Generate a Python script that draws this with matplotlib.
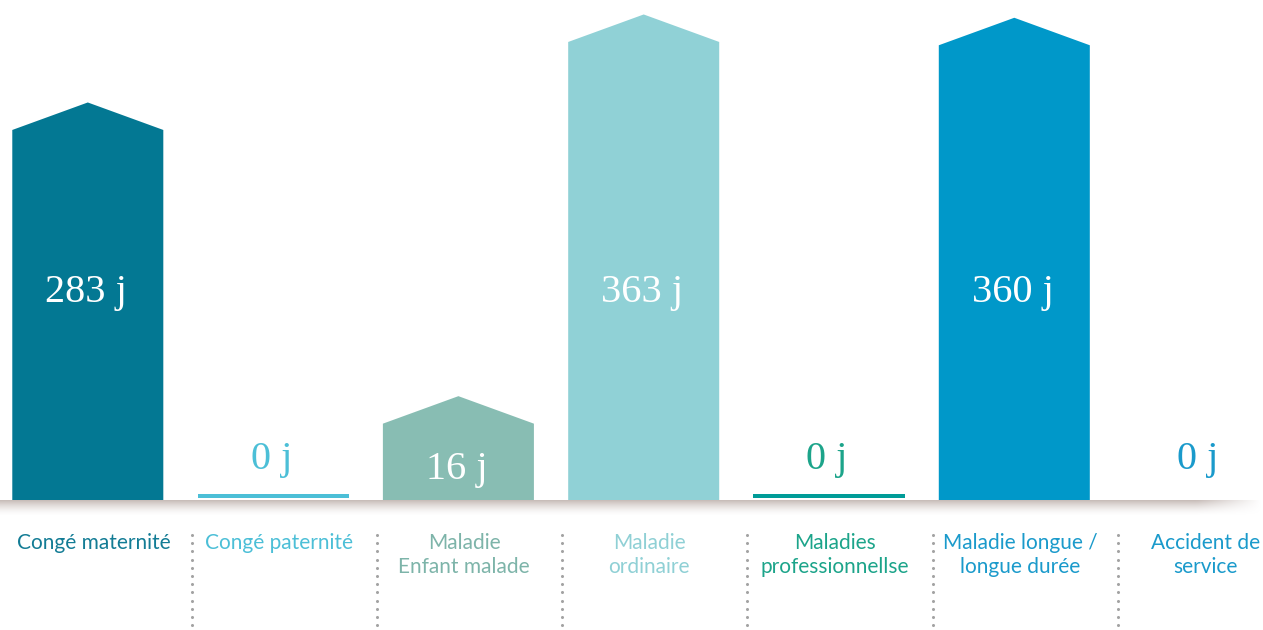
import numpy as np
import matplotlib
matplotlib.use("Agg")
import matplotlib.pyplot as plt
from matplotlib.patches import Polygon, Rectangle
from matplotlib.transforms import blended_transform_factory

# --- data -------------------------------------------------------------
categories = [
    "Congé maternité",
    "Congé paternité",
    "Maladie\nEnfant malade",
    "Maladie\nordinaire",
    "Maladies\nprofessionnellse",
    "Maladie longue /\nlongue durée",
    "Accident de\nservice",
]
days = [283, 0, 16, 363, 0, 360, 0]

# --- style ------------------------------------------------------------
bar_colors = ["#037893", "#4CBFD7", "#88BDB3", "#90D1D6", "#009C98", "#0098C9", None]
text_colors = ["#137C95", "#4CBFD7", "#7DB4A9", "#8FD0D5", "#1CA48A", "#1A9ACB", "#1A9ACB"]

W, H, DPI = 1263, 630, 100
PX_PER_DAY = 1.1          # vertical scale
PLINTH = 53.4             # constant foot under every non-zero column (days)
ROOF = 25.0               # height of the pointed roof (days)
BAR_W = 0.815
X0, STEP = 87.8, 185.3    # pixel position of first column and column pitch
BASE_PX = 130             # baseline height from the bottom of the figure

fig = plt.figure(figsize=(W / DPI, H / DPI), dpi=DPI)
ax = fig.add_axes([0, 0, 1, 1])
ax.set_axis_off()

y_base = -PLINTH
ylo = y_base - BASE_PX / PX_PER_DAY
yhi = y_base + (H - BASE_PX) / PX_PER_DAY
xlo = -X0 / STEP
xhi = (W - X0) / STEP

px = 1 / PX_PER_DAY  # one pixel in data units (vertical)

for i, (v, c) in enumerate(zip(days, bar_colors)):
    xl, xr = i - BAR_W / 2, i + BAR_W / 2
    if v > 0:
        house = Polygon(
            [(xl, y_base), (xr, y_base), (xr, v), (i, v + ROOF), (xl, v)],
            closed=True, facecolor=c, edgecolor="none", zorder=2)
        ax.add_patch(house)
    elif c is not None:
        ax.add_patch(Rectangle((xl, y_base + 2 * px), BAR_W, 4 * px,
                               facecolor=c, edgecolor="none", zorder=2))

    # value label
    if v > 100:
        ty, col = 135.0, "white"
    elif v > 0:
        ty, col = y_base + 30 * px, "white"
    else:
        ty, col = y_base + 40 * px, text_colors[i]
    ax.text(i - 0.01, ty, f"{v} j", ha="center", va="center",
            fontsize=29, color=col, family="Liberation Serif", zorder=3)

# soft shadow under the baseline
nrows, ncols = 40, 400
vert = np.linspace(1, 0, nrows) ** 1.6
horiz = np.clip((xhi - np.linspace(xlo, xhi, ncols)) / 0.35, 0, 1)
alpha = vert[:, None] * horiz[None, :] * 0.85
img = np.zeros((nrows, ncols, 4))
img[..., 0], img[..., 1], img[..., 2] = 0.74, 0.69, 0.67
img[..., 3] = alpha
ax.imshow(img, extent=(xlo, xhi, y_base - 16 * px, y_base), aspect="auto",
          interpolation="bilinear", zorder=1)

# category labels and dotted separators
tr = blended_transform_factory(ax.transData, fig.transFigure)
for i, (name, col) in enumerate(zip(categories, text_colors)):
    ax.text(i + 0.03, 1 - 533 / H, name, transform=tr, ha="center", va="top",
            fontsize=15, color=col, family="Lato", fontweight="normal",
            linespacing=1.28)

dot_y = 1 - np.arange(535, 628, 8.2) / H
for i in range(len(categories) - 1):
    ax.plot(np.full_like(dot_y, i + 0.56), dot_y, transform=tr, ls="none",
            marker="o", ms=2.2, mec="none", mfc="#a3a3a3")

ax.set_xlim(xlo, xhi)
ax.set_ylim(ylo, yhi)
fig.savefig("out.png", dpi=DPI, facecolor="white")
